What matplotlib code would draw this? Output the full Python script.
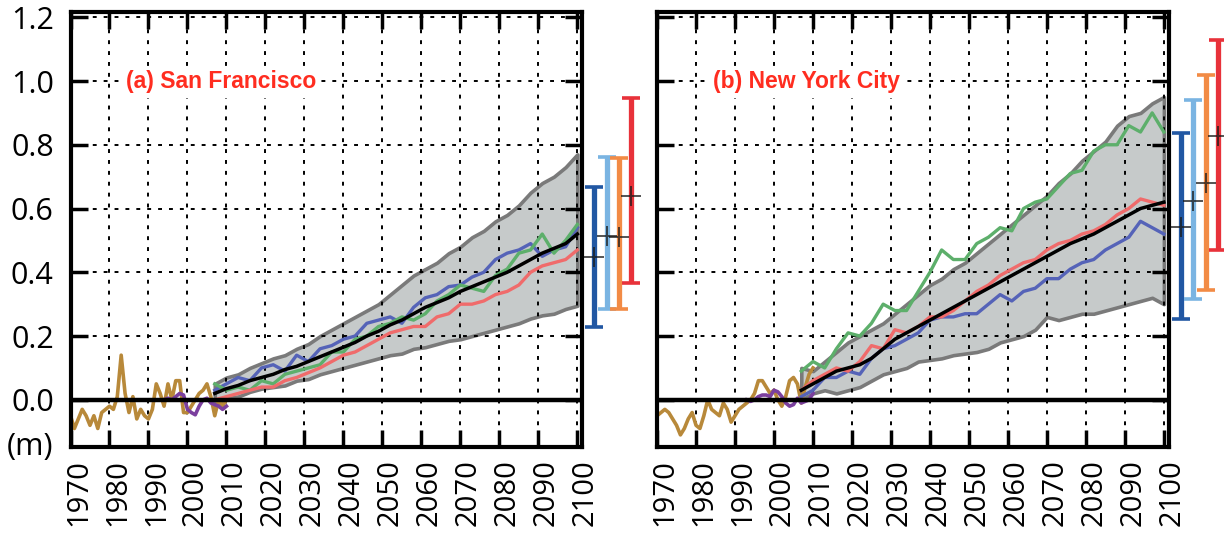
import matplotlib
matplotlib.use("Agg")
import matplotlib.pyplot as plt
from matplotlib.transforms import ScaledTranslation

# ---- data (metres, relative to 2000) ----
obs_years = list(range(1970, 2011))
sf_gauge = [-0.05, -0.09, -0.06, -0.03, -0.05, -0.08, -0.05, -0.09, -0.04, -0.03,
            -0.02, -0.03, 0.01, 0.14, 0.02, -0.04, 0.01, -0.06, -0.03, -0.05,
            -0.06, -0.03, 0.05, 0.02, -0.02, 0.05, 0.0, 0.06, 0.06, -0.04,
            -0.04, -0.02, 0.0, 0.02, 0.03, 0.05, 0.01, -0.05, 0.0, -0.02, 0.0]
nyc_gauge = [-0.05, -0.04, -0.03, -0.04, -0.06, -0.08, -0.11, -0.09, -0.06, -0.04,
             -0.08, -0.09, -0.05, 0.0, -0.03, -0.04, -0.05, -0.01, -0.03, -0.07,
             -0.05, -0.03, -0.02, -0.01, 0.0, 0.02, 0.06, 0.06, 0.04, 0.02,
             0.03, 0.0, -0.02, 0.01, 0.06, 0.07, 0.05, -0.01, 0.04, 0.08, 0.10]

sat_years = list(range(1993, 2011))
sf_sat = [0.0, 0.0, 0.005, 0.0, 0.01, 0.02, 0.015, -0.03, -0.04, -0.047,
          -0.02, 0.0, 0.005, -0.01, -0.015, -0.02, -0.03, -0.02]
nyc_sat = [0.0, -0.005, 0.0, 0.01, 0.015, 0.015, 0.01, 0.03, 0.025, 0.01,
           -0.01, -0.02, -0.015, 0.005, -0.01, -0.005, 0.0, 0.02]

proj_years = list(range(2007, 2101, 3))
sf_upper = [0.05, 0.07, 0.08, 0.10, 0.115, 0.13, 0.14, 0.16, 0.175, 0.20, 0.22, 0.24,
            0.26, 0.28, 0.30, 0.33, 0.36, 0.39, 0.41, 0.43, 0.46, 0.48, 0.51, 0.53,
            0.56, 0.58, 0.61, 0.65, 0.68, 0.70, 0.73, 0.77]
sf_lower = [-0.02, 0.005, 0.01, 0.025, 0.035, 0.04, 0.045, 0.06, 0.065, 0.08, 0.09, 0.10,
            0.11, 0.12, 0.13, 0.14, 0.145, 0.16, 0.165, 0.175, 0.185, 0.19, 0.20, 0.21,
            0.22, 0.23, 0.24, 0.255, 0.265, 0.27, 0.285, 0.295]
sf_median = [0.02, 0.035, 0.045, 0.06, 0.07, 0.08, 0.095, 0.105, 0.12, 0.135, 0.15, 0.165,
             0.18, 0.20, 0.215, 0.235, 0.25, 0.27, 0.29, 0.305, 0.32, 0.34, 0.355, 0.37,
             0.385, 0.40, 0.42, 0.44, 0.46, 0.475, 0.49, 0.52]
sf_blue = [0.03, 0.05, 0.07, 0.06, 0.10, 0.11, 0.09, 0.14, 0.12, 0.16, 0.17, 0.19,
           0.20, 0.24, 0.25, 0.26, 0.24, 0.29, 0.32, 0.33, 0.355, 0.36, 0.385, 0.40,
           0.44, 0.46, 0.47, 0.49, 0.45, 0.47, 0.48, 0.54]
sf_green = [0.05, 0.03, 0.04, 0.03, 0.06, 0.05, 0.08, 0.09, 0.10, 0.11, 0.15, 0.15,
            0.19, 0.20, 0.23, 0.24, 0.26, 0.25, 0.27, 0.31, 0.33, 0.36, 0.35, 0.34,
            0.39, 0.41, 0.46, 0.47, 0.52, 0.46, 0.50, 0.55]
sf_red = [0.0, 0.01, 0.02, 0.03, 0.04, 0.04, 0.06, 0.07, 0.085, 0.10, 0.12, 0.14,
          0.15, 0.17, 0.19, 0.21, 0.22, 0.23, 0.23, 0.26, 0.27, 0.30, 0.30, 0.31,
          0.33, 0.34, 0.36, 0.40, 0.42, 0.43, 0.44, 0.47]

nyc_upper = [0.10, 0.09, 0.12, 0.15, 0.18, 0.20, 0.22, 0.24, 0.27, 0.30, 0.33, 0.36,
             0.38, 0.41, 0.43, 0.46, 0.49, 0.52, 0.55, 0.58, 0.61, 0.64, 0.68, 0.71,
             0.75, 0.78, 0.81, 0.86, 0.89, 0.90, 0.93, 0.95]
nyc_lower = [0.0, 0.02, 0.03, 0.02, 0.03, 0.04, 0.06, 0.08, 0.09, 0.10, 0.12, 0.125,
             0.13, 0.14, 0.145, 0.15, 0.16, 0.18, 0.19, 0.20, 0.22, 0.26, 0.25, 0.26,
             0.27, 0.27, 0.28, 0.29, 0.30, 0.31, 0.32, 0.30]
nyc_median = [0.03, 0.05, 0.07, 0.09, 0.10, 0.11, 0.13, 0.16, 0.19, 0.21, 0.23, 0.25,
              0.27, 0.29, 0.31, 0.33, 0.35, 0.37, 0.39, 0.41, 0.43, 0.45, 0.47, 0.49,
              0.505, 0.52, 0.54, 0.56, 0.58, 0.60, 0.61, 0.62]
nyc_blue = [0.01, 0.03, 0.07, 0.07, 0.09, 0.08, 0.13, 0.16, 0.17, 0.19, 0.21, 0.25,
            0.26, 0.26, 0.27, 0.27, 0.30, 0.33, 0.31, 0.34, 0.35, 0.38, 0.38, 0.41,
            0.43, 0.44, 0.47, 0.49, 0.51, 0.56, 0.54, 0.52]
nyc_green = [0.09, 0.12, 0.10, 0.16, 0.21, 0.20, 0.24, 0.30, 0.28, 0.28, 0.34, 0.40,
             0.47, 0.44, 0.44, 0.49, 0.51, 0.54, 0.53, 0.60, 0.62, 0.63, 0.67, 0.71,
             0.72, 0.78, 0.80, 0.80, 0.86, 0.84, 0.90, 0.84]
nyc_red = [0.03, 0.06, 0.08, 0.10, 0.09, 0.12, 0.17, 0.16, 0.22, 0.21, 0.23, 0.26,
           0.26, 0.28, 0.31, 0.34, 0.36, 0.39, 0.41, 0.43, 0.44, 0.47, 0.49, 0.50,
           0.52, 0.53, 0.55, 0.58, 0.60, 0.63, 0.62, 0.61]

# 2100 ranges at the right of each panel: (low, median, high)
bar_x = [2104.4, 2107.5, 2110.7, 2113.8]
bar_colors = ['#2157a3', '#7ab4e2', '#f28b45', '#e8323a']
sf_bars = [(0.229, 0.447, 0.668), (0.284, 0.515, 0.762),
           (0.284, 0.511, 0.757), (0.367, 0.639, 0.946)]
nyc_bars = [(0.252, 0.543, 0.836), (0.315, 0.624, 0.940),
            (0.344, 0.679, 1.019), (0.470, 0.827, 1.130)]

xticks = list(range(1970, 2101, 10))
yticks = [0.0, 0.2, 0.4, 0.6, 0.8, 1.0, 1.2]

tick_font = 'Open Sans'
label_red = '#ff2d20'


def draw_panel(ax, title, gauge, sat, upper, lower, median, blue, green, red, bars,
               show_ylabels):
    ax.fill_between(proj_years, lower, upper, facecolor='#c6caca',
                    edgecolor='#7a7a7a', linewidth=2.6, zorder=1)
    ax.plot(obs_years, gauge, color='#b8893a', lw=2.6, zorder=3)
    ax.plot(sat_years, sat, color='#7b3f9e', lw=2.6, zorder=3)
    ax.plot(proj_years, blue, color='#5563b8', lw=2.4, zorder=3)
    ax.plot(proj_years, green, color='#5daf6b', lw=2.4, zorder=3)
    ax.plot(proj_years, red, color='#f06b6b', lw=2.4, zorder=3)
    ax.plot(proj_years, median, color='black', lw=2.5, zorder=4)
    ax.axhline(0, color='black', lw=3.2, zorder=4)

    for x, c, (lo, mid, hi) in zip(bar_x, bar_colors, bars):
        ax.errorbar([x], [mid], yerr=[[mid - lo], [hi - mid]], fmt='none',
                    ecolor=c, elinewidth=3.8, capsize=6.5, capthick=2.6,
                    clip_on=False, zorder=5)
        ax.plot([x], [mid], marker='+', ms=14, mew=1.4, color='#1a1a1a',
                alpha=0.75, clip_on=False, zorder=6)

    ax.set_xlim(1970, 2101.2)
    ax.set_ylim(-0.148, 1.215)
    ax.set_xticks(xticks)
    ax.set_yticks(yticks)
    ax.set_xticklabels([str(y) for y in xticks], rotation=90,
                       fontsize=21, family=tick_font)
    if show_ylabels:
        ax.set_yticklabels(['%.1f' % v for v in yticks], fontsize=22,
                           family=tick_font)
        ax.text(-0.033, -0.148, '(m)', transform=ax.get_yaxis_transform(),
                ha='right', va='center', fontsize=22, family=tick_font)
    else:
        ax.set_yticklabels([])

    ax.grid(True, color='black', lw=1.4, linestyle=(0, (2.0, 3.6)))
    ax.set_axisbelow(False)
    for s in ax.spines.values():
        s.set_linewidth(3)
        s.set_zorder(7)
    ax.tick_params(direction='in', top=True, right=True, length=12, width=2.5,
                   pad=12)
    ax.tick_params(axis='x', pad=9)
    for lab in ax.get_xticklabels():
        lab.set_transform(lab.get_transform() +
                          ScaledTranslation(8 / 100, 0, ax.figure.dpi_scale_trans))

    ax.text(1984.3, 0.997, title, color=label_red, fontsize=16.5,
            fontweight='bold', family='Liberation Sans', ha='left', va='center',
            zorder=8, bbox=dict(facecolor='white', edgecolor='none', pad=3))


fig = plt.figure(figsize=(12.24, 5.42), dpi=100)
ax1 = fig.add_axes([0.0576, 0.1753, 0.4179, 0.8017])
ax2 = fig.add_axes([0.5368, 0.1753, 0.4179, 0.8017])

draw_panel(ax1, '(a) San Francisco', sf_gauge, sf_sat, sf_upper, sf_lower,
           sf_median, sf_blue, sf_green, sf_red, sf_bars, True)
draw_panel(ax2, '(b) New York City', nyc_gauge, nyc_sat, nyc_upper, nyc_lower,
           nyc_median, nyc_blue, nyc_green, nyc_red, nyc_bars, False)

fig.savefig('out.png', dpi=100)
